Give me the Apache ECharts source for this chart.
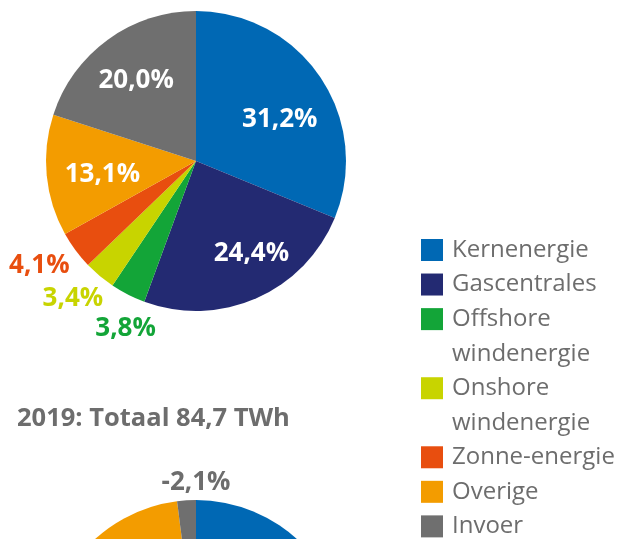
<!DOCTYPE html>
<html><head><meta charset="utf-8">
<script src="https://cdn.jsdelivr.net/npm/echarts@6/dist/echarts.min.js"></script>
<style>html,body{margin:0;padding:0;background:#fff}#c{width:618px;height:539px}</style>
</head><body><div id="c"></div>
<script>
// ---- data ----
const categories = ['Kernenergie', 'Gascentrales', 'Offshore windenergie', 'Onshore windenergie', 'Zonne-energie', 'Overige', 'Invoer'];
const legendLabels = ['Kernenergie', 'Gascentrales', 'Offshore\nwindenergie', 'Onshore\nwindenergie', 'Zonne-energie', 'Overige', 'Invoer'];
const colors = ['#0068b4', '#232a72', '#13a538', '#c8d400', '#e84e0f', '#f39c00', '#6f6f6f'];
const share2018 = [31.2, 24.4, 3.8, 3.4, 4.1, 13.1, 20.0];
const share2019 = [48.9, 26.6, 5.5, 4.1, 4.6, 12.4, -2.1];
const title2019 = '2019: Totaal 84,7 TWh';

// ---- styling ----
const FONT = '"Open Sans", "Noto Sans", sans-serif';
const GREY = '#6d6d6d';
const labelInside2018 = [true, true, false, false, false, true, true];
const labelInside2019 = [true, true, false, false, false, true, false];
// label nudges relative to the default 'inside' position
const shift2018 = [[19, 2], [24, 21], [-35, 98], [-73, 78], [-94, 58], [-16, 6], [-14, -17]];
const shift2019 = [[20, 2], [24, 21], [-35, 98], [-73, 78], [-94, 58], [-16, 6], [5, -90]];

function fmt(v) { return v.toFixed(1).replace('.', ',') + '%'; }

function buildData(values, inside) {
  return values.map((v, i) => ({
    name: categories[i],
    value: Math.abs(v),
    itemStyle: { color: colors[i] },
    label: { color: inside[i] ? '#ffffff' : (i === 6 ? GREY : colors[i]) }
  }));
}

function pieSeries(values, inside, center, shift) {
  return {
    type: 'pie',
    radius: [0, 150],
    center: center,
    startAngle: 90,
    clockwise: true,
    avoidLabelOverlap: false,
    silent: true,
    itemStyle: { borderWidth: 0 },
    label: {
      show: true,
      position: 'inside',
      fontFamily: FONT,
      fontWeight: 'bold',
      fontSize: 26,
      formatter: p => fmt(values[p.dataIndex])
    },
    labelLine: { show: false },
    labelLayout: function (params) {
      const d = shift[params.dataIndex];
      return { dx: d[0], dy: d[1] };
    },
    data: buildData(values, inside)
  };
}

function legendFor(names, top, twoLine) {
  return {
    orient: 'vertical',
    left: 421,
    top: top,
    height: 200,
    padding: 0,
    itemGap: 0,
    itemWidth: 22,
    itemHeight: 22,
    icon: 'rect',
    selectedMode: false,
    data: names.map(n => ({ name: n, icon: 'rect' })),
    // two-line names get an empty leading line so the first line sits beside the swatch
    formatter: n => {
      const t = legendLabels[categories.indexOf(n)];
      return twoLine ? '\n' + t : t;
    },
    textStyle: {
      fontFamily: FONT, fontSize: 24, color: GREY,
      lineHeight: twoLine ? 34.55 : 25.55,
      padding: [9, 0, 0, 4]
    }
  };
}

const chart = echarts.init(document.getElementById('c'), null, { renderer: 'canvas' });
chart.setOption({
  animation: false,
  backgroundColor: '#ffffff',
  title: {
    text: title2019,
    left: 17,
    top: 406,
    padding: 0,
    textStyle: { fontFamily: FONT, fontWeight: 'bold', fontSize: 25.5, color: GREY }
  },
  legend: [
    legendFor(['Kernenergie', 'Gascentrales'], 232.7, false),
    legendFor(['Offshore windenergie'], 262.8, true),
    legendFor(['Onshore windenergie'], 331.9, true),
    legendFor(['Zonne-energie', 'Overige', 'Invoer'], 440.0, false)
  ],
  series: [
    pieSeries(share2018, labelInside2018, [196, 161], shift2018),
    pieSeries(share2019, labelInside2019, [196, 650], shift2019)
  ]
});
</script></body></html>
